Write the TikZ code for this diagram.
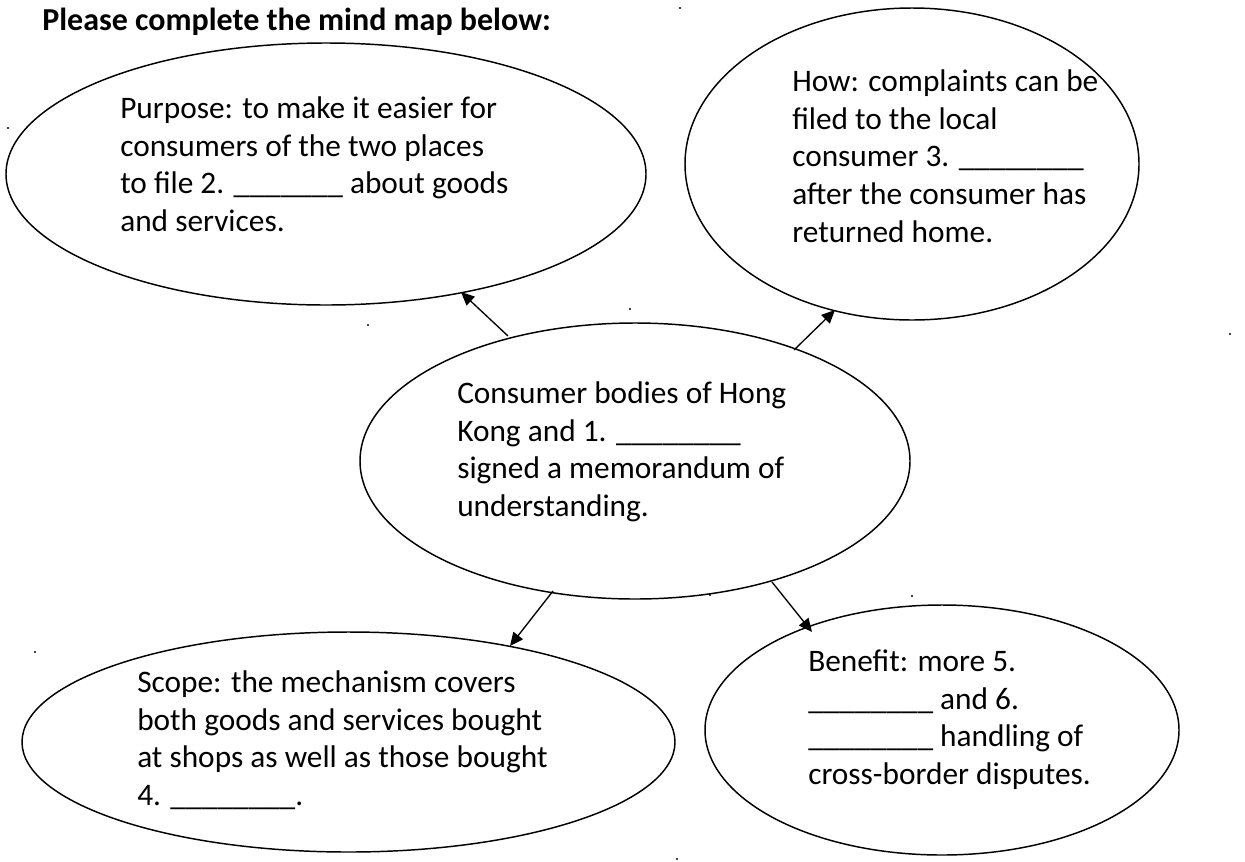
\documentclass[tikz,border=0pt]{standalone}
\usepackage{fontspec}
\setmainfont{Carlito}
\usetikzlibrary{arrows.meta}
\begin{document}
\begin{tikzpicture}[x=0.75pt,y=-0.75pt,
  bubble/.style={draw=black,line width=1.1pt},
  txt/.style={anchor=base west,align=left,inner sep=0pt,font=\fontsize{23.5pt}{28.2pt}\selectfont},
  conn/.style={line width=1pt,-{Triangle[length=10pt,width=9pt]}},
  speck/.style={fill=black,draw=none}]
\useasboundingbox (0,0) rectangle (1245,861);
\node[anchor=base west,inner sep=0pt,font=\fontsize{24pt}{28pt}\selectfont\bfseries] (title) at (42,30) {Please complete the mind map below:};
% ellipses
\draw[bubble] (326,174) ellipse [x radius=320, y radius=131];
\draw[bubble] (912,164) ellipse [x radius=227, y radius=156];
\draw[bubble] (635,461) ellipse [x radius=275, y radius=138];
\draw[bubble] (348.5,742) ellipse [x radius=326.5, y radius=110];
\draw[bubble] (942,730) ellipse [x radius=237, y radius=125];
% texts (anchor = baseline of last line)
\node[txt] (purpose) at (120,231.5) {Purpose: to make it easier for\\consumers of the two places\\to file 2. \_\_\_\_\_\_\_ about goods\\and services.};
\node[txt] (how) at (792,242) {How: complaints can be\\filed to the local\\consumer 3. \_\_\_\_\_\_\_\_\\after the consumer has\\returned home.};
\node[txt] (centre) at (457,516.5) {Consumer bodies of Hong\\Kong and 1. \_\_\_\_\_\_\_\_\\signed a memorandum of\\understanding.};
\node[txt] (scope) at (137,805.5) {Scope: the mechanism covers\\both goods and services bought\\at shops as well as those bought\\4. \_\_\_\_\_\_\_\_.};
\node[txt] (benefit) at (808,784.5) {Benefit: more 5.\\\_\_\_\_\_\_\_\_ and 6.\\\_\_\_\_\_\_\_\_ handling of\\cross-border disputes.};
% connectors
\coordinate (c1) at (508,336); \coordinate (p1) at (461,292);
\coordinate (c2) at (794,350); \coordinate (h2) at (835,310);
\coordinate (c3) at (553,591); \coordinate (s3) at (510,646);
\coordinate (c4) at (772,582); \coordinate (b4) at (812,632);
\draw[conn] (c1) -- (p1);
\draw[conn] (c2) -- (h2);
\draw[conn] (c3) -- (s3);
\draw[conn] (c4) -- (b4);
% specks
\foreach \p in {(8,128),(680,8),(368,325),(630,309),(1230,334),(35,652),(710,595),(912,596),(677,859)}
  \fill[speck] \p circle [radius=1.2];
\end{tikzpicture}
\end{document}
